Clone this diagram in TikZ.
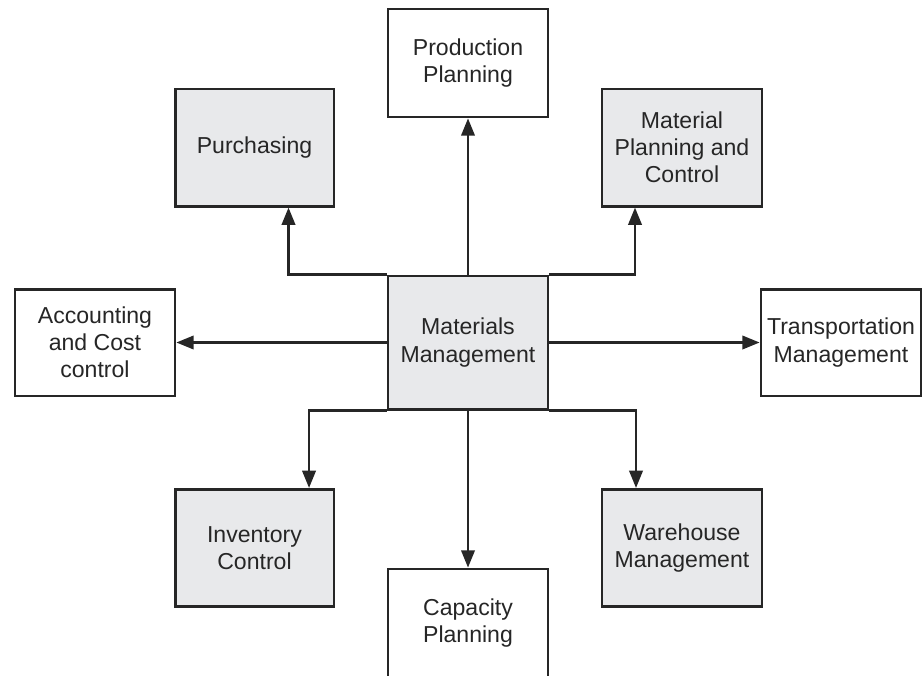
\documentclass[tikz,border=0pt]{standalone}
\usepackage{fontspec}
\setmainfont{Liberation Sans}
\usetikzlibrary{arrows.meta}
\definecolor{boxgray}{HTML}{E8E9EB}
\definecolor{linecol}{HTML}{262626}
\tikzset{
  px/.style={x=0.75pt,y=-0.75pt},
  box/.style={draw=linecol,line width=2pt,fill=white,minimum width=120pt,minimum height=81pt,
    inner sep=0pt,align=center,font=\fontsize{17.3}{20.3}\selectfont,text=black!85},
  gbox/.style={box,fill=boxgray},
  arr/.style={draw=linecol,line width=2pt,-{Triangle[length=13pt,width=10pt]}}
}
\begin{document}
\begin{tikzpicture}[px]
\useasboundingbox (0,0) rectangle (923,675);
\node[box] (PP) at (468,63) {Production\\Planning};
\node[gbox,minimum width=119pt,minimum height=88pt] (PU) at (254.5,147.5) {Purchasing};
\node[gbox,minimum height=88pt] (MPC) at (682,147.5) {Material\\Planning and\\Control};
\node[box,minimum height=80pt] (AC) at (95,342.5) {Accounting\\and Cost\\control};
\node[gbox,minimum height=100pt] (MM) at (468,342.5) {Materials\\Management};
\node[box,minimum height=80pt] (TR) at (841,342.5) {Transportation\\Management};
\node[gbox,minimum width=119pt,minimum height=88pt] (IC) at (254.5,548) {Inventory\\Control};
\node[gbox,minimum height=88pt] (WH) at (682,548) {Warehouse\\Management};
\node[box] (CP) at (468,623) {Capacity\\Planning};
\draw[arr] (MM.north) -- (PP.south);
\draw[arr] (MM.north west) -| ([xshift=25.5pt]PU.south);
\draw[arr] (MM.north east) -| ([xshift=-35.25pt]MPC.south);
\draw[arr] (MM.west) -- (AC.east);
\draw[arr] (MM.east) -- (TR.west);
\draw[arr] (MM.south west) -| ([xshift=40.9pt]IC.north);
\draw[arr] (MM.south east) -| ([xshift=-34.5pt]WH.north);
\draw[arr] (MM.south) -- (CP.north);
\end{tikzpicture}
\end{document}
